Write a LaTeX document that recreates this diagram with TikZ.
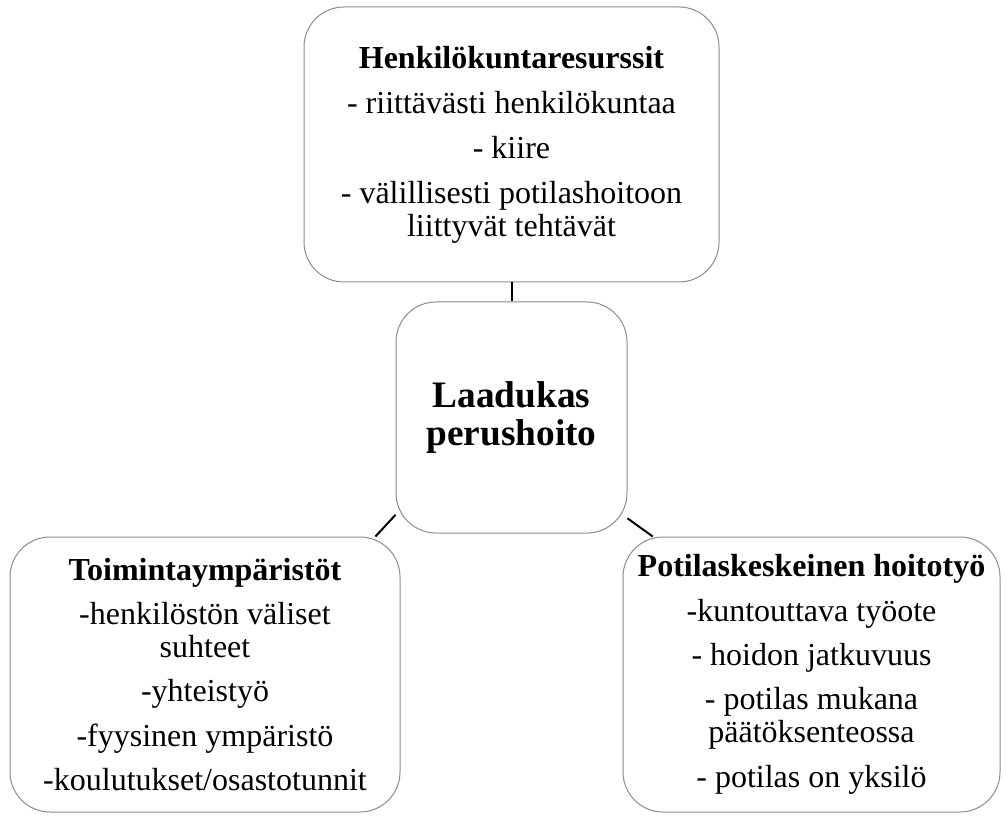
\documentclass[tikz,border=0pt]{standalone}
\usepackage{fontspec}
\setmainfont{Liberation Serif}
\usetikzlibrary{positioning}
\tikzset{
    % --- Rounded theme box ---
    theme/.style = {
        rectangle, draw=black!45, line width=0.75pt,
        rounded corners=30pt, align=center, inner sep=0pt,
        minimum height=206.25pt,
        font=\fontsize{24}{24.75}\selectfont
    },
    % --- Central concept box ---
    core/.style = {
        theme, minimum width=173.25pt, minimum height=173.25pt,
        font=\fontsize{28}{29}\selectfont\bfseries
    },
    % --- Plain connecting line ---
    link/.style = {
        draw=black, line width=1.5pt
    }
}

\begin{document}
\begin{tikzpicture}[x=0.75pt, y=-0.75pt]

\useasboundingbox (0,0) rectangle (1006,816);

% ---------------------------------------------------------
% Central concept
% ---------------------------------------------------------
\node[core] (Core) at (511.5, 417.5) {Laadukas\\perushoito};

% ---------------------------------------------------------
% Top: staff resources
% ---------------------------------------------------------
\node[theme, minimum width=311.25pt, above=14.25pt of Core] (Staff) {%
    \textbf{Henkilökuntaresurssit}\\[9pt]
    - riittävästi henkilökuntaa\\[9pt]
    - kiire\\[9pt]
    - välillisesti potilashoitoon\\
    liittyvät tehtävät
};
\draw[link] (Staff) -- (Core);

% ---------------------------------------------------------
% Bottom left: environments
% ---------------------------------------------------------
\node[theme, minimum width=292.5pt] (Env) at (205, 674.5) {%
    \textbf{Toimintaympäristöt}\\[8.5pt]
    -henkilöstön väliset\\
    suhteet\\[8.5pt]
    -yhteistyö\\[8.5pt]
    -fyysinen ympäristö\\[8.5pt]
    -koulutukset/osastotunnit
};
\draw[link] (Core.220.7) -- (Env.39.5);

% ---------------------------------------------------------
% Bottom right: patient-centred care
% ---------------------------------------------------------
\node[theme, minimum width=282.75pt] (Care) at (811.5, 674.5) {%
    \textbf{Potilaskeskeinen hoitotyö}\\[8.5pt]
    -kuntouttava työote\\[8.5pt]
    - hoidon jatkuvuus\\[8.5pt]
    - potilas mukana\\
    päätöksenteossa\\[8.5pt]
    - potilas on yksilö
};
\draw[link] (Core.319.8) -- (Care.139.2);

\end{tikzpicture}
\end{document}
